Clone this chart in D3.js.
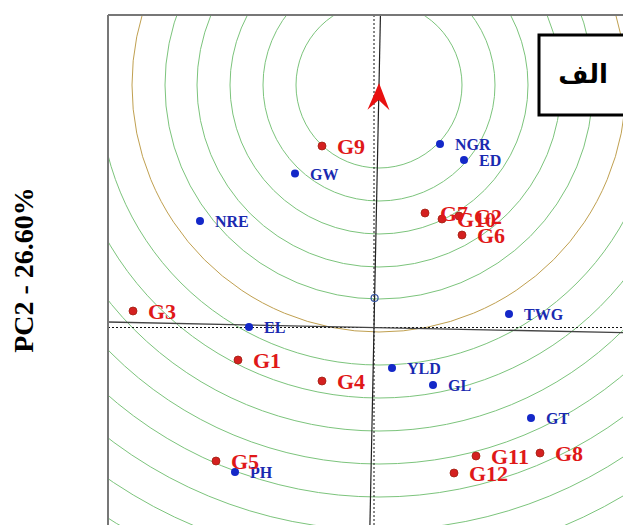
<!DOCTYPE html>
<html>
<head>
<meta charset="utf-8">
<script src="https://cdn.jsdelivr.net/npm/d3@7/dist/d3.min.js"></script>
<style>
  html, body { margin: 0; padding: 0; background: #fff; }
  svg { display: block; }
</style>
</head>
<body>
<svg id="chart" width="623" height="525"></svg>
<script>
// Genotype scores (PC1, PC2)
const genotypes = ["G1", "G2", "G3", "G4", "G5", "G6", "G7", "G8", "G9", "G10", "G11", "G12"];
const genoPC1 = [-1.36, 0.85, -2.41, -0.52, -1.58, 0.88, 0.51, 1.66, -0.52, 0.68, 1.02, 0.80];
const genoPC2 = [-0.325, 1.115, 0.165, -0.535, -1.335, 0.925, 1.145, -1.255, 1.815, 1.085, -1.285, -1.455];

// Trait vectors (PC1, PC2)
const traits = ["NGR", "ED", "GW", "NRE", "EL", "YLD", "GL", "TWG", "GT", "PH"];
const traitPC1 = [0.66, 0.90, -0.79, -1.74, -1.25, 0.18, 0.59, 1.35, 1.57, -1.39];
const traitPC2 = [1.835, 1.675, 1.54, 1.065, 0.005, -0.405, -0.575, 0.135, -0.905, -1.445];

// Ideal genotype on the average axis, concentric distance rings around it
const idealPoint = [0.05, 2.425];
const ringRadii = [0.83, 1.16, 1.49, 1.82, 2.14, 2.47, 2.80, 3.13, 3.46, 3.79, 4.12, 4.45, 4.78, 5.11, 5.44];
const highlightRing = 2.47;
const meanPoint = [0.006, 0.295];

const axisTitle = "PC2 - 26.60%";
const panelTag = "الف";

const svg = d3.select("#chart");
const plot = { left: 108, top: 15, right: 623, bottom: 525 };

const x = d3.scaleLinear().domain([-2.66, 2.49]).range([plot.left, plot.right]);
const y = d3.scaleLinear().domain([-1.975, 3.125]).range([plot.bottom, plot.top]);
const pxPerUnit = x(1) - x(0);

svg.append("defs").append("clipPath").attr("id", "plotClip")
  .append("rect")
  .attr("x", plot.left).attr("y", plot.top)
  .attr("width", plot.right - plot.left).attr("height", plot.bottom - plot.top);

const g = svg.append("g").attr("clip-path", "url(#plotClip)");

// Distance rings
g.selectAll("circle.ring")
  .data(ringRadii)
  .join("circle")
  .attr("class", "ring")
  .attr("cx", x(idealPoint[0]))
  .attr("cy", y(idealPoint[1]))
  .attr("r", d => d * pxPerUnit)
  .attr("fill", "none")
  .attr("stroke", d => d === highlightRing ? "#c0a050" : "#7cc47c")
  .attr("stroke-width", 1);

// Dotted PC axes through the origin
g.append("line")
  .attr("x1", plot.left).attr("x2", plot.right)
  .attr("y1", y(0)).attr("y2", y(0))
  .attr("stroke", "#111").attr("stroke-width", 1).attr("stroke-dasharray", "2,2");
g.append("line")
  .attr("x1", x(0)).attr("x2", x(0))
  .attr("y1", plot.top).attr("y2", plot.bottom)
  .attr("stroke", "#111").attr("stroke-width", 1).attr("stroke-dasharray", "2,2");

// Average axis (origin -> ideal point) and its perpendicular
const dx = idealPoint[0], dy = idealPoint[1];
const len = Math.hypot(dx, dy);
const ux = dx / len, uy = dy / len;
const far = 10;
g.append("line")
  .attr("x1", x(-ux * far)).attr("y1", y(-uy * far))
  .attr("x2", x(ux * far)).attr("y2", y(uy * far))
  .attr("stroke", "#222").attr("stroke-width", 1.2);
g.append("line")
  .attr("x1", x(-uy * far)).attr("y1", y(ux * far))
  .attr("x2", x(uy * far)).attr("y2", y(-ux * far))
  .attr("stroke", "#444").attr("stroke-width", 1.3);

// Arrowhead at the ideal point
const angle = Math.atan2(x(dx) - x(0), y(0) - y(dy)) * 180 / Math.PI;
g.append("path")
  .attr("d", "M0,-2 L-11,25 L0,15 L11,25 Z")
  .attr("transform", `translate(${x(idealPoint[0])},${y(idealPoint[1])}) rotate(${angle})`)
  .attr("fill", "#e81010");

// Mean marker
g.append("circle")
  .attr("cx", x(meanPoint[0])).attr("cy", y(meanPoint[1]))
  .attr("r", 3.5)
  .attr("fill", "none").attr("stroke", "#3050a0").attr("stroke-width", 1.2);

// Trait points
const traitData = traits.map((n, i) => ({ name: n, pc1: traitPC1[i], pc2: traitPC2[i] }));
g.selectAll("circle.trait")
  .data(traitData)
  .join("circle")
  .attr("class", "trait")
  .attr("cx", d => x(d.pc1)).attr("cy", d => y(d.pc2))
  .attr("r", 4)
  .attr("fill", "#1428c8");
g.selectAll("text.trait")
  .data(traitData)
  .join("text")
  .attr("class", "trait")
  .attr("x", d => x(d.pc1) + 15).attr("y", d => y(d.pc2) + 6)
  .attr("font-family", "'Liberation Serif', 'Times New Roman', serif")
  .attr("font-weight", "bold")
  .attr("font-size", 16)
  .attr("fill", "#1a2ab0")
  .text(d => d.name);

// Genotype points
const genoData = genotypes.map((n, i) => ({ name: n, pc1: genoPC1[i], pc2: genoPC2[i] }));
g.selectAll("circle.geno")
  .data(genoData)
  .join("circle")
  .attr("class", "geno")
  .attr("cx", d => x(d.pc1)).attr("cy", d => y(d.pc2))
  .attr("r", 4)
  .attr("fill", "#d42020")
  .attr("stroke", "#a02010").attr("stroke-width", 0.8);
g.selectAll("text.geno")
  .data(genoData)
  .join("text")
  .attr("class", "geno")
  .attr("x", d => x(d.pc1) + 15).attr("y", d => y(d.pc2) + 7.5)
  .attr("font-family", "'Liberation Serif', 'Times New Roman', serif")
  .attr("font-weight", "bold")
  .attr("font-size", 22)
  .attr("fill", "#e01818")
  .text(d => d.name);

// Panel tag box
svg.append("rect")
  .attr("x", 539).attr("y", 35)
  .attr("width", 100).attr("height", 80)
  .attr("fill", "#fff").attr("stroke", "#000").attr("stroke-width", 3);
svg.append("text")
  .attr("x", 583).attr("y", 83)
  .attr("text-anchor", "middle")
  .attr("font-family", "'DejaVu Sans', serif")
  .attr("font-weight", "bold")
  .attr("font-size", 26)
  .attr("fill", "#000")
  .text(panelTag);

// Frame (left and top edges visible)
svg.append("line")
  .attr("x1", plot.left).attr("x2", plot.left)
  .attr("y1", plot.top).attr("y2", plot.bottom)
  .attr("stroke", "#777").attr("stroke-width", 2);
svg.append("line")
  .attr("x1", plot.left).attr("x2", plot.right)
  .attr("y1", plot.top).attr("y2", plot.top)
  .attr("stroke", "#777").attr("stroke-width", 2);

// Y axis title
svg.append("text")
  .attr("transform", "translate(33,270) rotate(-90)")
  .attr("text-anchor", "middle")
  .attr("font-family", "'Liberation Serif', 'Times New Roman', serif")
  .attr("font-weight", "bold")
  .attr("font-size", 28)
  .attr("fill", "#000")
  .text(axisTitle);
</script>
</body>
</html>
